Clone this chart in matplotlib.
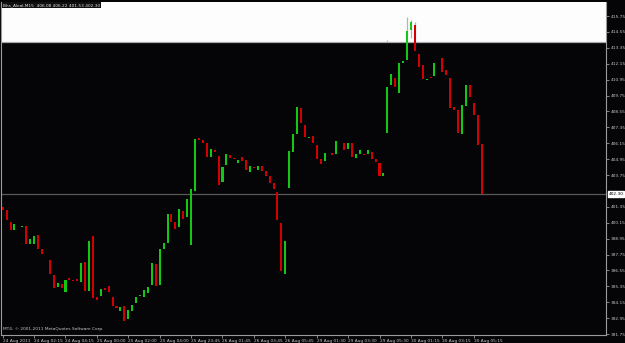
import numpy as np
import matplotlib.pyplot as plt
from matplotlib import font_manager

nan = np.nan

# M15 candles (missing = not drawn)
opens = [
    401.31, 401.11, 400.18, 399.60, nan, 399.85, 399.90, 398.55, 398.55, 399.22,
    398.15, nan, 397.34, 396.21, 395.28, 395.53, 394.95, 395.96, 395.85, 395.88,
    395.70, 397.21, 395.02, 399.15, 394.52, 394.64, 395.20, 395.38, 394.57, 393.87,
    393.51, 393.89, 392.89, 393.51, 394.12, 394.62, 394.57, 394.82, 395.45, 397.04,
    395.45, 398.15, 398.64, 400.81, 400.18, 399.85, 401.04, 400.61, 398.45, 402.52,
    406.52, 406.42, 406.15, 405.11, 405.64, 405.21, 403.25, 404.51, 405.26, 405.01,
    404.68, 405.09, 404.89, 403.96, 404.38, 404.15, 404.45, 404.03, 403.68, 403.13,
    402.49, 400.11, 396.26, 402.79, 405.51, 406.87, 408.81, 407.50, 406.55, 406.72,
    405.99, 404.96, 404.81, nan, 405.41, 405.31, nan, 406.15, 405.69, 406.15,
    405.01, 405.32, 405.34, 405.36, 405.47, 404.96, 404.66, 403.68, 406.95, 410.52,
    411.05, 409.96, 412.18, 412.43, 414.70, 415.07, 412.88, 412.05, 410.94, 411.15,
    411.22, nan, 412.58, 411.70, 411.05, 408.88, 408.66, 406.87, 408.96, 410.55,
    409.19, 408.28, 406.08]
closes = [
    401.11, 400.36, 399.60, 400.03, nan, 399.90, 398.55, 398.90, 399.17, 398.17,
    397.79, nan, 396.26, 395.20, 395.58, 395.20, 395.83, 395.83, 395.78, 395.75,
    397.13, 395.02, 398.79, 394.49, 394.32, 395.15, 395.07, 394.95, 393.87, 393.74,
    393.81, 392.76, 393.56, 393.94, 394.52, 394.70, 395.07, 395.30, 397.09, 395.40,
    398.17, 398.60, 400.79, 400.21, 399.66, 401.19, 400.43, 401.94, 402.72, 406.47,
    406.42, 406.19, 405.13, 405.69, 405.49, 403.00, 404.38, 405.32, 405.06, 404.94,
    404.89, 404.83, 404.13, 404.45, 404.28, 404.43, 404.05, 403.68, 403.17, 402.67,
    400.36, 396.53, 398.77, 405.54, 406.85, 408.91, 407.70, 406.62, 406.62, 406.19,
    404.96, 404.56, 405.41, nan, 405.26, 406.32, nan, 405.64, 406.15, 405.13,
    405.32, 405.64, 405.26, 405.62, 404.96, 404.76, 403.68, 403.88, 410.42, 411.38,
    410.42, 412.18, 412.36, 414.64, 415.28, 413.13, 411.93, 410.97, 410.99, 411.10,
    412.18, nan, 411.55, 411.27, 408.83, 408.68, 406.90, 409.01, 410.55, 409.66,
    408.28, 406.04, 402.30]

# wicks only show up inside the white rectangle
wick_idx = [98, 103, 104, 105]
wick_hi = [413.94, 415.65, 415.45, 415.28]
wick_lo = [406.95, 412.43, 414.07, 413.13]

rect_bottom = 413.79
last_price = 402.30

price_ticks = [415.75, 414.55, 413.35, 412.15, 410.95, 409.75, 408.55, 407.35,
               406.15, 404.95, 403.75, 401.35, 400.15, 398.95, 397.75, 396.55,
               395.35, 394.15, 392.95, 391.75]
date_pos = [0, 8, 16, 24, 32, 40, 48, 56, 64, 72, 80, 88, 96, 104, 112, 120]
date_labels = ["24 Aug 2011", "24 Aug 02:15", "24 Aug 04:15", "25 Aug 00:00",
               "25 Aug 02:00", "25 Aug 04:00", "25 Aug 23:45", "26 Aug 01:45",
               "26 Aug 03:45", "26 Aug 05:45", "29 Aug 01:30", "29 Aug 03:30",
               "29 Aug 05:30", "30 Aug 01:15", "30 Aug 03:15", "30 Aug 05:15"]

bg = '#050507'
up_col = '#12c812'
dn_col = '#d20000'
txt_col = '#c8c8c8'

# narrow font if there is one, otherwise DejaVu Sans
names = {f.name for f in font_manager.fontManager.ttflist}
if 'Liberation Sans Narrow' in names:
    small = font_manager.FontProperties(family='Liberation Sans Narrow', size=4.0)
else:
    small = font_manager.FontProperties(family='DejaVu Sans', size=3.1)

fig = plt.figure(figsize=(6.25, 3.43), dpi=100, facecolor=bg)
ax = fig.add_axes([1.5/625, 1 - 334.5/343, (606 - 1.5)/625, (334.5 - 2)/343])
ax.set_facecolor(bg)
ax.set_xlim(-0.3, 153.7)
ax.set_ylim(391.72, 416.81)

ax.axhspan(rect_bottom, 417, color='#fcfdfc', zorder=0, lw=0)
ax.axhline(rect_bottom, color='#a8a8a8', lw=0.9, zorder=1)
ax.axhline(last_price, color='#5a5a5a', lw=0.9, zorder=1)

for i, h, l in zip(wick_idx, wick_hi, wick_lo):
    ax.vlines(i, max(l, rect_bottom), h, color='#b4b4b4', lw=0.9, zorder=2)

x = np.arange(len(opens))
o = np.array(opens)
c = np.array(closes)
ok = ~np.isnan(o)
bottoms = np.minimum(o, c)[ok]
heights = np.maximum(np.abs(c - o)[ok], 0.07)
cols = [up_col if cc >= oo else dn_col for oo, cc in zip(o[ok], c[ok])]
ax.bar(x[ok], heights, bottom=bottoms, width=0.52, color=cols, lw=0,
       zorder=3, antialiased=False)

for s in ['left', 'bottom', 'right']:
    ax.spines[s].set_color('#9a9a9a')
    ax.spines[s].set_linewidth(0.8)
ax.spines['top'].set_visible(False)

ax.yaxis.tick_right()
ax.set_yticks(price_ticks)
ax.set_yticklabels([f"{v:.2f}" for v in price_ticks])
ax.tick_params(axis='y', colors='#9a9a9a', labelcolor=txt_col, length=2.5,
               width=0.6, pad=1)
ax.set_xticks(date_pos)
ax.set_xticklabels(date_labels)
ax.tick_params(axis='x', colors='#9a9a9a', labelcolor=txt_col, length=2.5,
               width=0.6, pad=0.8)
for lbl in ax.get_xticklabels() + ax.get_yticklabels():
    lbl.set_fontproperties(small)
for lbl in ax.get_xticklabels():
    lbl.set_ha('left')

ax.text(1.004, last_price, f"{last_price:.2f}", transform=ax.get_yaxis_transform(),
        fontproperties=small, color='black', va='center', ha='left',
        bbox=dict(boxstyle='square,pad=0.2', fc='white', ec='white'))

fig.text(3/625, 1 - 5/343, "Bhs_Aleal,M15  406.08 406.22 401.53 402.30",
         fontproperties=small, color='#e0e0e0', va='center', ha='left',
         bbox=dict(boxstyle='square,pad=0.15', fc='#101010', ec='none'))
fig.text(3/625, 1 - 329/343, "MT4, \u00a9 2001-2011 MetaQuotes Software Corp.",
         fontproperties=small, color=txt_col, va='center', ha='left')

fig.savefig('out.png', dpi=100, facecolor=bg)
